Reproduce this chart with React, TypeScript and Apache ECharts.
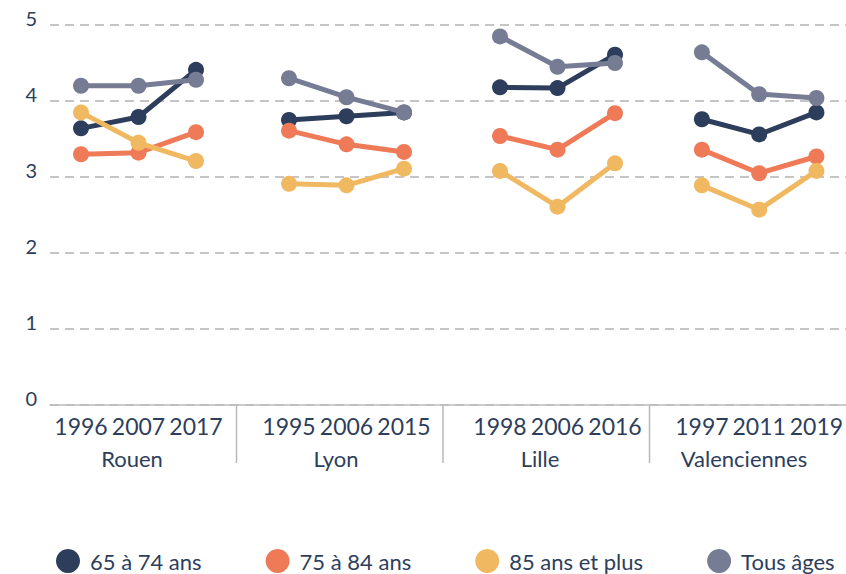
import React, { useEffect, useRef } from "react";
import * as echarts from "echarts";

const cities = ["Rouen", "Lyon", "Lille", "Valenciennes"];
const years = [
  ["1996", "2007", "2017"],
  ["1995", "2006", "2015"],
  ["1998", "2006", "2016"],
  ["1997", "2011", "2019"],
];
const seriesNames = ["65 à 74 ans", "75 à 84 ans", "85 ans et plus", "Tous âges"];
const age65to74 = [3.64, 3.79, 4.41, 3.75, 3.8, 3.85, 4.18, 4.17, 4.61, 3.76, 3.56, 3.85];
const age75to84 = [3.3, 3.32, 3.59, 3.61, 3.43, 3.33, 3.54, 3.36, 3.84, 3.36, 3.05, 3.27];
const age85plus = [3.85, 3.45, 3.21, 2.91, 2.89, 3.11, 3.08, 2.61, 3.18, 2.89, 2.57, 3.08];
const allAges = [4.2, 4.2, 4.28, 4.3, 4.05, 3.85, 4.85, 4.45, 4.5, 4.64, 4.09, 4.04];
const yTicks = [0, 1, 2, 3, 4, 5];

const colors = ["#2d3e5c", "#ef7a57", "#f1b862", "#777c95"];
const textColor = "#2d3e5c";
const FONT = "Lato";

export default function App() {
  const ref = useRef<HTMLDivElement>(null);
  useEffect(() => {
    document.body.style.margin = "0";
    const chart = echarts.init(ref.current!, null, { renderer: "svg" });
    const values = [age65to74, age75to84, age85plus, allAges];
    const top = 25;
    const bottom = 169;
    const groupLefts = [52.25, 260.25, 471.25, 673.25];
    const groupWidth = 172.5;
    const cityLeft = 30;
    const cityWidth = 826;
    const band = cityWidth / cities.length;

    const grids: any[] = [{ left: 50, right: 0, top, bottom }];
    const xAxes: any[] = [
      {
        type: "value",
        gridIndex: 0,
        min: 0,
        max: 1,
        axisLine: { show: true, lineStyle: { color: "#bcbcbc", width: 1.5 } },
        axisTick: { show: false },
        axisLabel: { show: false },
        splitLine: { show: false },
      },
    ];
    const yAxes: any[] = [
      {
        type: "value",
        gridIndex: 0,
        min: yTicks[0],
        max: yTicks[yTicks.length - 1],
        interval: 1,
        axisLine: { show: false },
        axisTick: { show: false },
        axisLabel: {
          color: textColor,
          fontFamily: FONT,
          fontSize: 20,
          margin: 13,
          verticalAlign: "bottom",
          lineHeight: 14,
        },
        splitLine: { lineStyle: { color: "#b3b3b3", width: 1.5, type: [9, 6] } },
      },
    ];
    const series: any[] = [];
    cities.forEach((c, i) => {
      grids.push({ left: groupLefts[i], width: groupWidth, top, bottom });
      xAxes.push({
        type: "category",
        gridIndex: i + 1,
        data: years[i],
        boundaryGap: true,
        axisLine: { show: false },
        axisTick: { show: false },
        axisLabel: { color: textColor, fontFamily: FONT, fontSize: 23, margin: 9, interval: 0 },
      });
      yAxes.push({ type: "value", gridIndex: i + 1, min: 0, max: 5, show: false });
      values.forEach((arr, s) => {
        series.push({
          type: "line",
          name: seriesNames[s],
          xAxisIndex: i + 1,
          yAxisIndex: i + 1,
          data: arr.slice(i * 3, i * 3 + 3),
          symbol: "circle",
          symbolSize: 16,
          lineStyle: { color: colors[s], width: 5 },
          itemStyle: { color: colors[s] },
          emphasis: { disabled: true },
        });
      });
    });
    grids.push({ left: cityLeft, width: cityWidth, top, bottom });
    xAxes.push({
      type: "category",
      gridIndex: 5,
      data: cities,
      boundaryGap: true,
      axisLine: { show: false },
      axisTick: { show: false },
      axisLabel: { color: textColor, fontFamily: FONT, fontSize: 22, margin: 42, interval: 0 },
    });
    yAxes.push({ type: "value", gridIndex: 5, min: 0, max: 5, show: false });

    const graphic: any[] = [];
    for (let i = 1; i < cities.length; i++) {
      const x = cityLeft + band * i;
      graphic.push({
        type: "line",
        shape: { x1: x, y1: 405, x2: x, y2: 463 },
        style: { stroke: "#b8b8b8", lineWidth: 1.5 },
      });
    }

    chart.setOption({
      animation: false,
      color: colors,
      grid: grids,
      xAxis: xAxes,
      yAxis: yAxes,
      series,
      graphic,
      legend: {
        data: seriesNames,
        left: 51,
        top: 544,
        icon: "circle",
        itemWidth: 24,
        itemHeight: 24,
        itemGap: 64,
        textStyle: {
          color: textColor,
          fontFamily: FONT,
          fontSize: 22,
          lineHeight: 24,
          padding: [0, 0, 0, 5],
        },
      },
    });
    return () => chart.dispose();
  }, []);
  return <div ref={ref} style={{ position: "absolute", left: 0, top: 0, width: 846, height: 574 }} />;
}
